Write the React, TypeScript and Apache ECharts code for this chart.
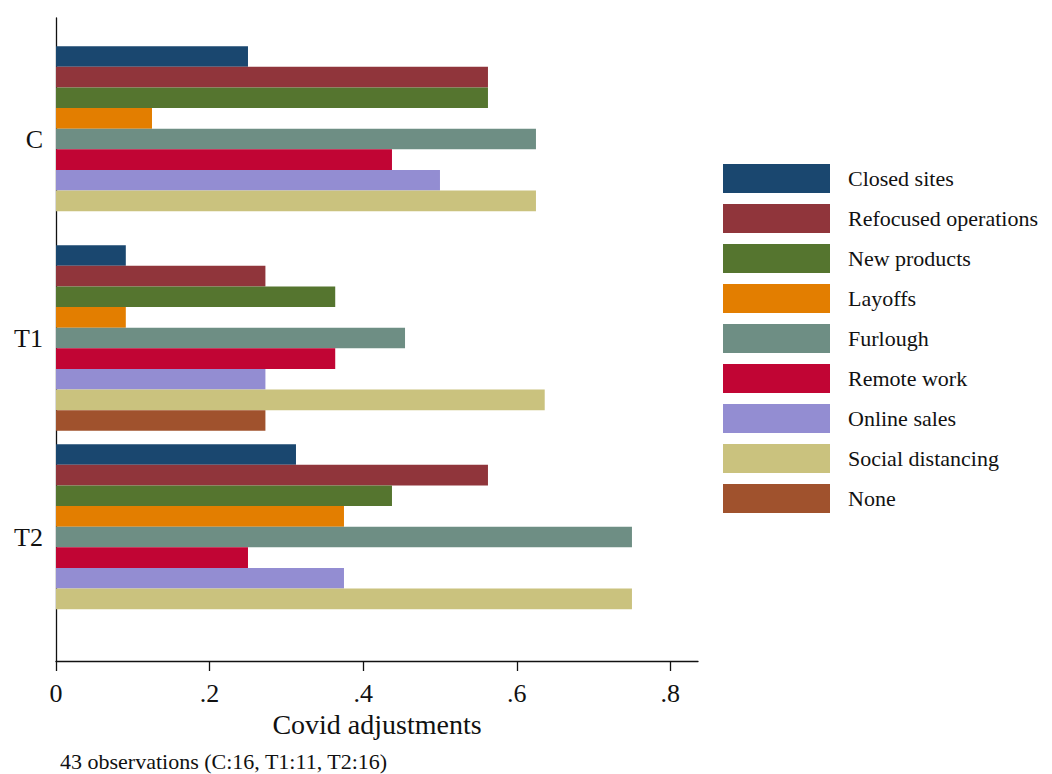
import React, { useEffect, useRef } from "react";
import * as echarts from "echarts";

// Share of firms reporting each Covid adjustment, by group
const groups = ["C", "T1", "T2"];
const adjustments = [
  "Closed sites",
  "Refocused operations",
  "New products",
  "Layoffs",
  "Furlough",
  "Remote work",
  "Online sales",
  "Social distancing",
  "None",
];
const colors = [
  "#1a476f",
  "#90353b",
  "#55752f",
  "#e37e00",
  "#6e8e84",
  "#c10534",
  "#938dd2",
  "#cac27e",
  "#a0522d",
];

// one value per adjustment, in the order above
const shareC = [0.25, 0.5625, 0.5625, 0.125, 0.625, 0.4375, 0.5, 0.625, 0];
const shareT1 = [0.0909, 0.2727, 0.3636, 0.0909, 0.4545, 0.3636, 0.2727, 0.6364, 0.2727];
const shareT2 = [0.3125, 0.5625, 0.4375, 0.375, 0.75, 0.25, 0.375, 0.75, 0];

const xTicks = [0, 0.2, 0.4, 0.6, 0.8];
const xMax = 0.836;
const note = "43 observations (C:16, T1:11, T2:16)";

const FONT = "'Liberation Serif', 'Times New Roman', serif";

export default function App() {
  const ref = useRef<HTMLDivElement>(null);

  useEffect(() => {
    if (!ref.current) return;
    const chart = echarts.init(ref.current, null, { renderer: "svg" });
    const byGroup = [shareC, shareT1, shareT2];

    const series = adjustments.map((name, i) => ({
      name,
      type: "bar",
      xAxisIndex: 0,
      yAxisIndex: 0,
      barGap: "0%",
      barCategoryGap: "6.7%",
      itemStyle: { color: colors[i] },
      data: byGroup.map((g) => g[i]),
    }));

    const fmt = (v: number) => (v === 0 ? "0" : String(v).replace(/^0/, ""));

    chart.setOption({
      animation: false,
      backgroundColor: "#ffffff",
      textStyle: { fontFamily: FONT, color: "#111" },
      grid: [
        { left: 56, top: 39.5, width: 642, height: 597 },
        { left: 56, top: 18, width: 642, height: 643 },
      ],
      xAxis: [
        {
          gridIndex: 0,
          type: "value",
          min: 0,
          max: xMax,
          show: false,
          splitLine: { show: false },
        },
        {
          gridIndex: 1,
          type: "value",
          min: 0,
          max: xMax,
          name: "Covid adjustments",
          nameLocation: "middle",
          nameGap: 46,
          nameTextStyle: { fontFamily: FONT, fontSize: 28, color: "#111" },
          axisLine: { show: true, lineStyle: { color: "#111", width: 1.3 } },
          axisTick: {
            show: true,
            length: 10,
            customValues: xTicks,
            lineStyle: { color: "#111", width: 1.3 },
          },
          axisLabel: {
            customValues: xTicks,
            formatter: fmt,
            fontFamily: FONT,
            fontSize: 26,
            color: "#111",
            margin: 19,
          },
          splitLine: { show: false },
        },
      ],
      yAxis: [
        {
          gridIndex: 0,
          type: "category",
          data: groups,
          inverse: true,
          axisLine: { show: false },
          axisTick: { show: false },
          axisLabel: { fontFamily: FONT, fontSize: 26, color: "#111", margin: 13 },
        },
        {
          gridIndex: 1,
          type: "value",
          min: 0,
          max: 1,
          axisLine: { show: true, onZero: false, lineStyle: { color: "#111", width: 1.3 } },
          axisTick: { show: false },
          axisLabel: { show: false },
          splitLine: { show: false },
        },
      ],
      legend: {
        orient: "vertical",
        left: 723,
        top: 164,
        padding: 0,
        itemWidth: 107,
        itemHeight: 29,
        itemGap: 11,
        icon: "rect",
        data: adjustments,
        textStyle: {
          fontFamily: FONT,
          fontSize: 22,
          color: "#111",
          padding: [0, 0, 0, 13],
        },
      },
      title: {
        text: note,
        left: 60,
        top: 750,
        padding: 0,
        textStyle: { fontFamily: FONT, fontSize: 22, fontWeight: "normal", color: "#111" },
      },
      series,
    });

    return () => chart.dispose();
  }, []);

  return (
    <div
      ref={ref}
      style={{ position: "fixed", left: 0, top: 0, width: 1052, height: 774, background: "#fff" }}
    />
  );
}
